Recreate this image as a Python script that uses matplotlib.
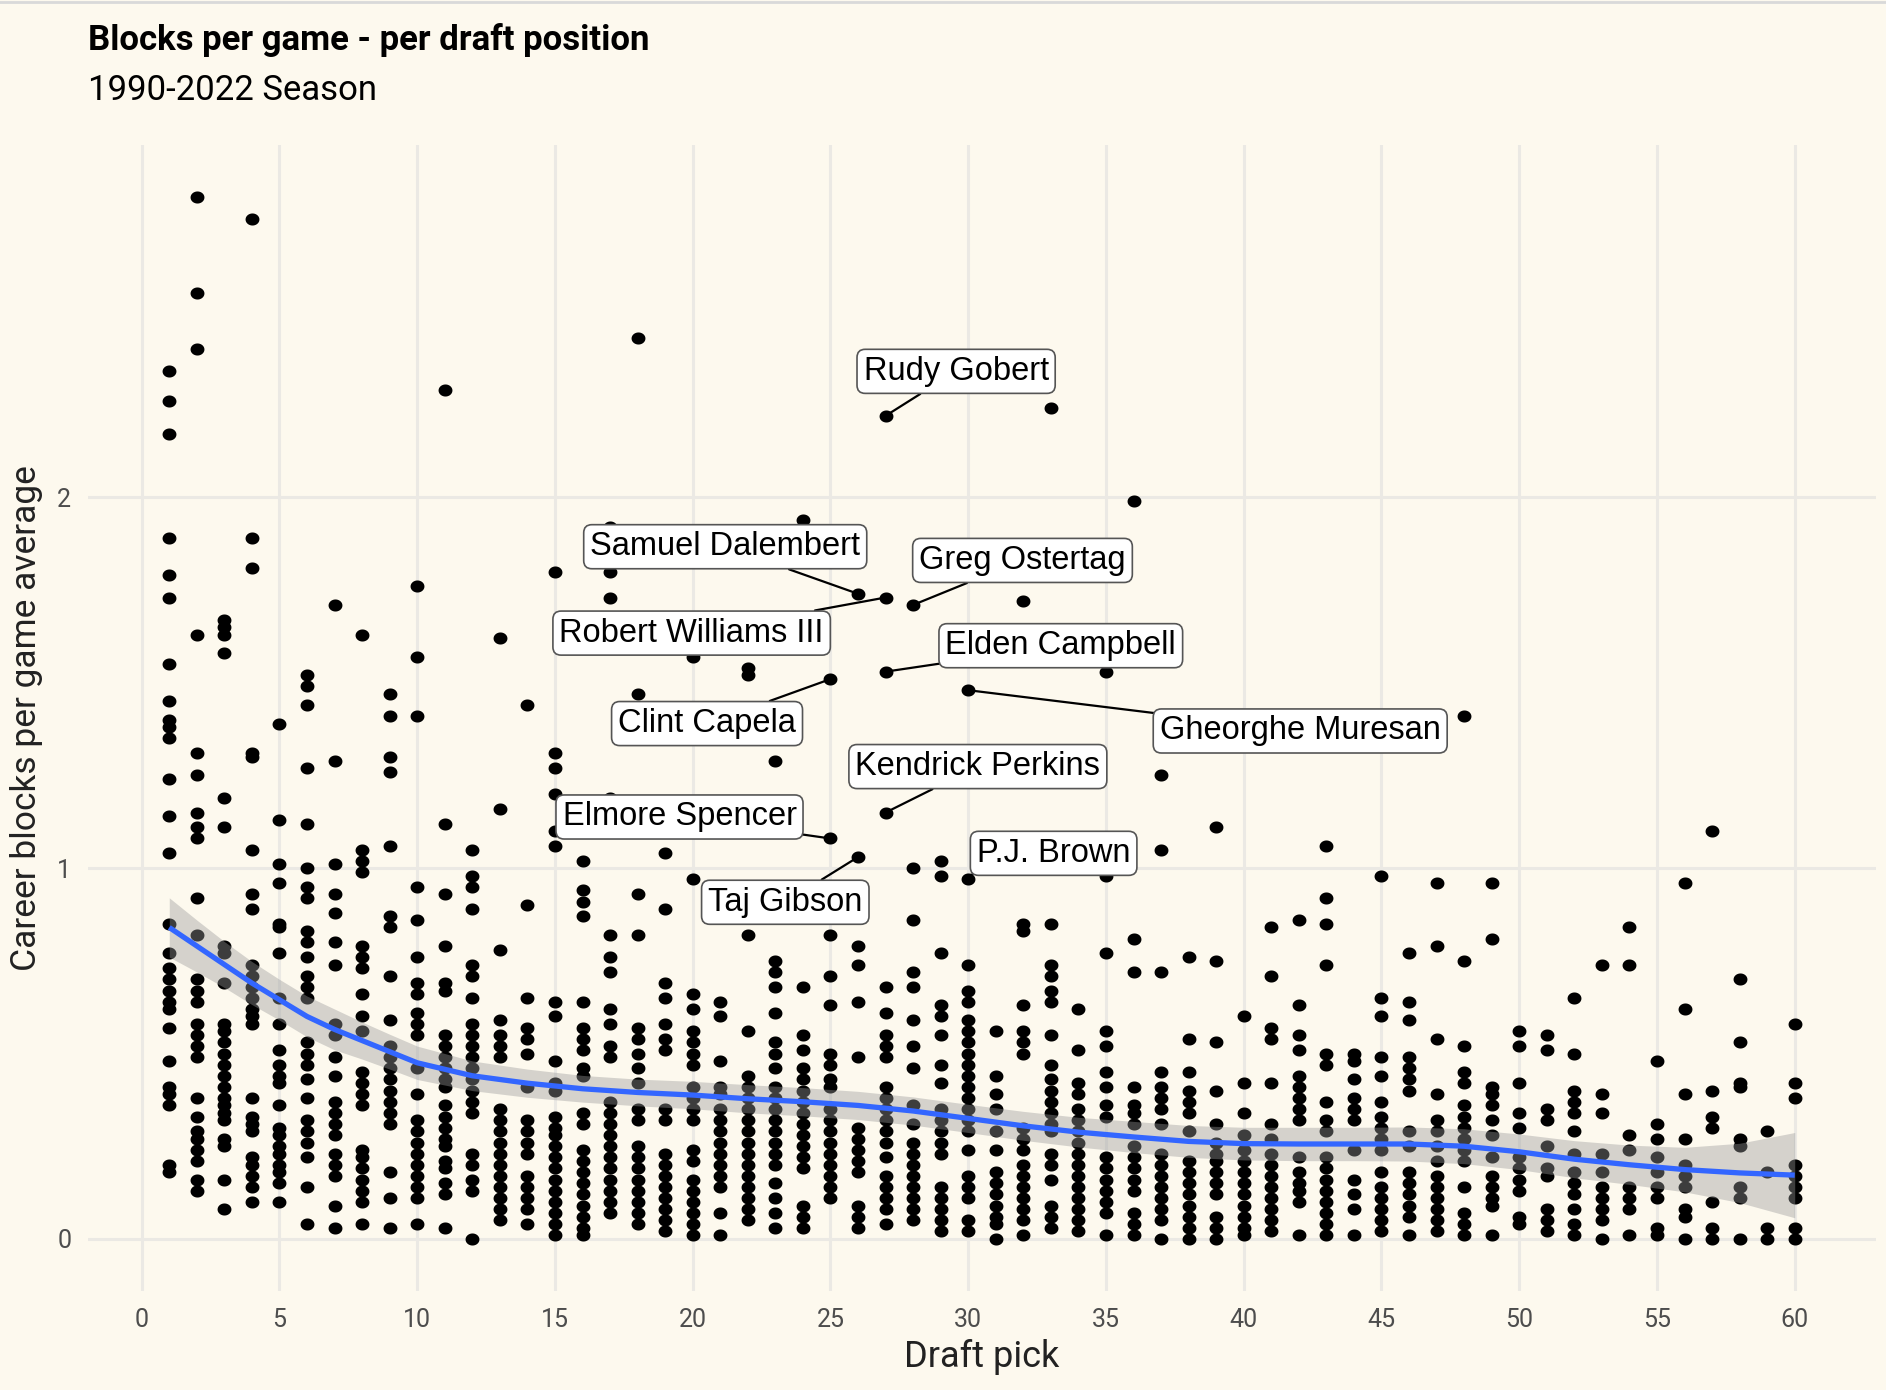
import matplotlib
matplotlib.use("Agg")
from matplotlib import pyplot as plt
from matplotlib.lines import Line2D
from matplotlib.path import Path
import numpy as np

# career blocks per game, one list per draft pick (1..60)
draft_picks = [1, 2, 3, 4, 5, 6, 7, 8, 9, 10, 11, 12, 13, 14, 15, 16, 17, 18, 19, 20,
               21, 22, 23, 24, 25, 26, 27, 28, 29, 30, 31, 32, 33, 34, 35, 36, 37, 38, 39, 40,
               41, 42, 43, 44, 45, 46, 47, 48, 49, 50, 51, 52, 53, 54, 55, 56, 57, 58, 59, 60]
blocks = [
    [2.34, 2.26, 2.17, 1.89, 1.79, 1.73, 1.55, 1.45, 1.40, 1.38, 1.35, 1.24, 1.14, 1.04, 0.85, 0.77, 0.73, 0.70, 0.67, 0.64, 0.62, 0.57, 0.48, 0.41, 0.39, 0.36, 0.20, 0.18],
    [2.81, 2.55, 2.40, 1.63, 1.31, 1.25, 1.15, 1.11, 1.08, 0.92, 0.82, 0.70, 0.67, 0.64, 0.58, 0.55, 0.52, 0.49, 0.38, 0.33, 0.29, 0.27, 0.24, 0.21, 0.16, 0.13],
    [1.67, 1.65, 1.63, 1.58, 1.19, 1.11, 0.79, 0.77, 0.69, 0.58, 0.56, 0.53, 0.50, 0.47, 0.44, 0.41, 0.38, 0.36, 0.34, 0.32, 0.27, 0.25, 0.16, 0.08],
    [2.75, 1.89, 1.81, 1.31, 1.30, 1.05, 0.93, 0.89, 0.74, 0.71, 0.68, 0.65, 0.62, 0.60, 0.58, 0.38, 0.33, 0.31, 0.29, 0.22, 0.20, 0.17, 0.14, 0.10],
    [1.39, 1.13, 1.01, 0.96, 0.85, 0.84, 0.77, 0.65, 0.58, 0.51, 0.47, 0.44, 0.42, 0.36, 0.30, 0.28, 0.25, 0.23, 0.20, 0.18, 0.15, 0.10],
    [1.52, 1.49, 1.44, 1.27, 1.12, 1.00, 0.95, 0.92, 0.83, 0.80, 0.76, 0.71, 0.68, 0.65, 0.53, 0.50, 0.47, 0.43, 0.38, 0.32, 0.29, 0.26, 0.22, 0.14, 0.04],
    [1.71, 1.29, 1.01, 0.93, 0.88, 0.80, 0.74, 0.58, 0.55, 0.49, 0.44, 0.37, 0.34, 0.31, 0.28, 0.23, 0.20, 0.17, 0.09, 0.03],
    [1.63, 1.05, 1.02, 0.99, 0.79, 0.76, 0.73, 0.66, 0.60, 0.56, 0.45, 0.42, 0.39, 0.36, 0.24, 0.22, 0.19, 0.16, 0.13, 0.10, 0.04],
    [1.47, 1.41, 1.30, 1.26, 1.06, 0.87, 0.84, 0.71, 0.59, 0.52, 0.49, 0.46, 0.43, 0.40, 0.37, 0.34, 0.31, 0.18, 0.11, 0.03],
    [1.76, 1.57, 1.41, 0.95, 0.86, 0.76, 0.69, 0.66, 0.61, 0.58, 0.55, 0.46, 0.39, 0.32, 0.29, 0.26, 0.23, 0.20, 0.17, 0.14, 0.11, 0.04],
    [2.29, 1.12, 0.93, 0.79, 0.69, 0.67, 0.55, 0.52, 0.49, 0.46, 0.43, 0.41, 0.36, 0.33, 0.30, 0.27, 0.25, 0.21, 0.19, 0.15, 0.12, 0.03],
    [1.05, 0.98, 0.95, 0.89, 0.74, 0.71, 0.65, 0.58, 0.55, 0.52, 0.49, 0.46, 0.43, 0.40, 0.37, 0.34, 0.23, 0.20, 0.16, 0.13, 0.00],
    [1.62, 1.16, 0.78, 0.59, 0.55, 0.52, 0.49, 0.35, 0.32, 0.29, 0.26, 0.23, 0.20, 0.17, 0.14, 0.11, 0.08, 0.05],
    [1.44, 0.90, 0.65, 0.57, 0.54, 0.50, 0.41, 0.32, 0.29, 0.26, 0.23, 0.17, 0.14, 0.11, 0.08, 0.04],
    [1.80, 1.31, 1.27, 1.20, 1.10, 1.06, 0.64, 0.60, 0.48, 0.42, 0.40, 0.33, 0.30, 0.28, 0.25, 0.22, 0.19, 0.16, 0.13, 0.10, 0.07, 0.04, 0.01],
    [1.02, 0.94, 0.91, 0.87, 0.64, 0.57, 0.54, 0.51, 0.46, 0.44, 0.34, 0.31, 0.24, 0.21, 0.18, 0.15, 0.12, 0.09, 0.06, 0.03, 0.01],
    [1.92, 1.80, 1.73, 1.19, 0.82, 0.76, 0.72, 0.62, 0.58, 0.52, 0.49, 0.37, 0.34, 0.31, 0.28, 0.25, 0.22, 0.19, 0.16, 0.13, 0.10, 0.07],
    [2.43, 1.47, 0.93, 0.82, 0.57, 0.54, 0.50, 0.46, 0.42, 0.35, 0.32, 0.25, 0.22, 0.19, 0.16, 0.13, 0.10, 0.07, 0.04],
    [1.04, 0.89, 0.69, 0.65, 0.58, 0.54, 0.51, 0.35, 0.32, 0.23, 0.20, 0.17, 0.14, 0.11, 0.08, 0.05, 0.02],
    [1.57, 0.97, 0.66, 0.62, 0.56, 0.53, 0.50, 0.47, 0.41, 0.38, 0.35, 0.32, 0.24, 0.21, 0.16, 0.13, 0.10, 0.07, 0.04, 0.01],
    [0.64, 0.60, 0.48, 0.41, 0.39, 0.35, 0.32, 0.29, 0.26, 0.23, 0.20, 0.17, 0.14, 0.07, 0.01],
    [1.54, 1.52, 0.82, 0.56, 0.44, 0.41, 0.38, 0.35, 0.32, 0.29, 0.26, 0.23, 0.20, 0.17, 0.14, 0.11, 0.08, 0.05],
    [1.29, 0.75, 0.72, 0.68, 0.61, 0.53, 0.50, 0.46, 0.41, 0.38, 0.35, 0.32, 0.29, 0.26, 0.23, 0.20, 0.15, 0.11, 0.07, 0.03],
    [1.94, 0.68, 0.55, 0.51, 0.46, 0.43, 0.40, 0.37, 0.34, 0.31, 0.28, 0.25, 0.22, 0.19, 0.09, 0.06, 0.03],
    [1.51, 1.08, 0.82, 0.71, 0.63, 0.50, 0.47, 0.43, 0.41, 0.35, 0.32, 0.29, 0.26, 0.23, 0.20, 0.17, 0.14, 0.11],
    [1.74, 1.03, 0.79, 0.74, 0.64, 0.49, 0.30, 0.27, 0.24, 0.21, 0.18, 0.09, 0.06, 0.03],
    [2.22, 1.73, 1.53, 1.15, 0.68, 0.61, 0.55, 0.52, 0.49, 0.41, 0.38, 0.35, 0.32, 0.29, 0.26, 0.22, 0.17, 0.14, 0.11, 0.08, 0.04],
    [1.71, 1.00, 0.86, 0.72, 0.68, 0.59, 0.52, 0.46, 0.36, 0.31, 0.26, 0.23, 0.20, 0.17, 0.14, 0.11, 0.08, 0.05],
    [1.02, 0.98, 0.77, 0.63, 0.60, 0.55, 0.47, 0.42, 0.35, 0.32, 0.29, 0.26, 0.23, 0.14, 0.11, 0.08, 0.05, 0.02],
    [1.48, 0.97, 0.74, 0.67, 0.64, 0.59, 0.56, 0.53, 0.50, 0.47, 0.44, 0.41, 0.38, 0.35, 0.32, 0.29, 0.24, 0.17, 0.14, 0.11, 0.05, 0.02],
    [0.56, 0.44, 0.39, 0.35, 0.29, 0.24, 0.18, 0.15, 0.12, 0.09, 0.06, 0.04, 0.00],
    [1.72, 0.85, 0.83, 0.63, 0.56, 0.53, 0.50, 0.30, 0.27, 0.24, 0.20, 0.17, 0.14, 0.11, 0.08, 0.05, 0.01],
    [2.24, 0.85, 0.74, 0.71, 0.67, 0.64, 0.55, 0.47, 0.43, 0.40, 0.37, 0.34, 0.31, 0.29, 0.23, 0.20, 0.16, 0.09, 0.06, 0.03],
    [0.62, 0.51, 0.42, 0.39, 0.35, 0.32, 0.29, 0.26, 0.23, 0.20, 0.17, 0.14, 0.11, 0.08, 0.05, 0.02],
    [1.53, 0.98, 0.77, 0.56, 0.52, 0.45, 0.41, 0.36, 0.33, 0.22, 0.19, 0.16, 0.13, 0.10, 0.07, 0.01],
    [1.99, 0.81, 0.72, 0.41, 0.36, 0.34, 0.31, 0.25, 0.22, 0.19, 0.16, 0.13, 0.07, 0.04, 0.01],
    [1.25, 1.05, 0.72, 0.45, 0.41, 0.38, 0.35, 0.31, 0.23, 0.20, 0.17, 0.14, 0.11, 0.08, 0.05, 0.00],
    [0.76, 0.54, 0.45, 0.40, 0.37, 0.34, 0.29, 0.21, 0.18, 0.15, 0.12, 0.09, 0.06, 0.03, 0.00],
    [1.11, 0.75, 0.53, 0.40, 0.31, 0.26, 0.23, 0.21, 0.18, 0.15, 0.12, 0.06, 0.03, 0.00],
    [0.60, 0.42, 0.34, 0.28, 0.24, 0.21, 0.18, 0.15, 0.12, 0.09, 0.06, 0.03, 0.01],
    [0.84, 0.71, 0.57, 0.54, 0.42, 0.31, 0.27, 0.23, 0.20, 0.17, 0.14, 0.11, 0.08, 0.05, 0.02],
    [0.86, 0.63, 0.55, 0.51, 0.44, 0.41, 0.38, 0.35, 0.32, 0.22, 0.18, 0.15, 0.13, 0.10, 0.01],
    [1.06, 0.92, 0.85, 0.74, 0.50, 0.47, 0.37, 0.32, 0.29, 0.22, 0.19, 0.16, 0.13, 0.10, 0.07, 0.04, 0.01],
    [0.50, 0.48, 0.43, 0.38, 0.35, 0.32, 0.24, 0.16, 0.12, 0.08, 0.01],
    [0.98, 0.65, 0.60, 0.49, 0.44, 0.37, 0.33, 0.30, 0.27, 0.24, 0.18, 0.14, 0.11, 0.08, 0.05, 0.02],
    [0.77, 0.64, 0.59, 0.49, 0.46, 0.43, 0.40, 0.29, 0.25, 0.18, 0.15, 0.12, 0.09, 0.06, 0.01],
    [0.96, 0.79, 0.54, 0.39, 0.32, 0.29, 0.25, 0.21, 0.17, 0.14, 0.11, 0.08, 0.05, 0.02],
    [1.41, 0.75, 0.52, 0.45, 0.42, 0.36, 0.33, 0.30, 0.27, 0.24, 0.21, 0.14, 0.07, 0.04, 0.01],
    [0.96, 0.81, 0.41, 0.39, 0.36, 0.32, 0.28, 0.22, 0.17, 0.14, 0.11, 0.09, 0.01],
    [0.56, 0.52, 0.42, 0.34, 0.30, 0.22, 0.19, 0.16, 0.13, 0.06, 0.04],
    [0.55, 0.51, 0.35, 0.32, 0.25, 0.19, 0.17, 0.08, 0.05, 0.02],
    [0.65, 0.50, 0.40, 0.37, 0.34, 0.29, 0.23, 0.18, 0.15, 0.12, 0.08, 0.04, 0.01],
    [0.74, 0.39, 0.34, 0.23, 0.18, 0.14, 0.11, 0.08, 0.05, 0.00],
    [0.84, 0.74, 0.28, 0.24, 0.14, 0.11, 0.08, 0.01],
    [0.48, 0.31, 0.27, 0.22, 0.18, 0.14, 0.11, 0.03, 0.01],
    [0.96, 0.62, 0.39, 0.27, 0.20, 0.17, 0.14, 0.08, 0.06, 0.00],
    [1.10, 0.40, 0.33, 0.30, 0.10, 0.03, 0.00],
    [0.70, 0.53, 0.42, 0.41, 0.27, 0.25, 0.14, 0.11, 0.00],
    [0.29, 0.18, 0.03, 0.00],
    [0.58, 0.42, 0.38, 0.20, 0.17, 0.14, 0.11, 0.03, 0.00],
]

# loess fit
smooth_picks = [1, 2, 3, 4, 5, 6, 7, 8, 9, 10, 12, 14, 16, 18, 20, 22, 24, 26, 28, 30,
                32, 34, 36, 38, 40, 42, 44, 46, 48, 50, 52, 54, 56, 58, 60]
smooth_fit = [0.84, 0.79, 0.74, 0.69, 0.645, 0.60, 0.565, 0.535, 0.505, 0.475, 0.44, 0.42,
              0.405, 0.395, 0.388, 0.378, 0.37, 0.36, 0.345, 0.325, 0.305, 0.288, 0.275,
              0.263, 0.257, 0.256, 0.256, 0.256, 0.25, 0.235, 0.215, 0.20, 0.187, 0.178, 0.172]
smooth_se = [0.08, 0.07, 0.062, 0.058, 0.055, 0.055, 0.055, 0.05, 0.047, 0.045, 0.04, 0.038,
             0.036, 0.036, 0.037, 0.038, 0.038, 0.038, 0.038, 0.038, 0.039, 0.04, 0.042,
             0.043, 0.044, 0.045, 0.045, 0.046, 0.047, 0.048, 0.05, 0.053, 0.06, 0.08, 0.115]

label_names = ["Rudy Gobert", "Samuel Dalembert", "Greg Ostertag", "Robert Williams III",
               "Elden Campbell", "Clint Capela", "Gheorghe Muresan", "Kendrick Perkins",
               "Elmore Spencer", "P.J. Brown", "Taj Gibson"]
label_picks = [27, 26, 28, 27, 27, 25, 30, 27, 25, 30, 26]
label_values = [2.22, 1.74, 1.71, 1.73, 1.53, 1.51, 1.48, 1.15, 1.08, 0.98, 1.03]

# where ggrepel put the boxes (data coords of box centre)
label_box_x = [29.56, 21.18, 31.97, 19.96, 33.36, 20.52, 42.05, 30.35, 19.52, 33.1, 23.36]
label_box_y = [2.34, 1.867, 1.83, 1.634, 1.60, 1.39, 1.37, 1.274, 1.138, 1.04, 0.908]

bg = "#fdf9ee"
grid = "#ebe9e4"
W, H = 1886, 1390

fig = plt.figure(figsize=(W / 100, H / 100), dpi=100, facecolor=bg)
ax = fig.add_axes([88 / W, 1 - 1291 / H, (1876 - 88) / W, (1291 - 145) / H])
ax.set_facecolor(bg)

# the reference render is a little stretched sideways, so dots are slightly oval
t = np.linspace(0, 2 * np.pi, 40)
oval = Path(np.column_stack([1.15 * np.cos(t), np.sin(t)]), closed=True)

xs = []
ys = []
for p, vals in zip(draft_picks, blocks):
    xs.extend([p] * len(vals))
    ys.extend(vals)
ax.scatter(xs, ys, s=100, marker=oval, color="black", linewidths=0, zorder=3)

fit = np.array(smooth_fit)
se = np.array(smooth_se)
ax.fill_between(smooth_picks, fit - se, fit + se, color="#999999", alpha=0.4,
                linewidth=0, zorder=4)
ax.plot(smooth_picks, fit, color="#3366FF", lw=3.8, zorder=5, solid_capstyle="butt")

for name, px, py, bx, by in zip(label_names, label_picks, label_values, label_box_x, label_box_y):
    ax.annotate(name, xy=(px, py), xytext=(bx, by), ha="center", va="center",
                fontsize=23.5, family="Liberation Sans", color="black", zorder=7,
                bbox=dict(boxstyle="round,pad=0.2,rounding_size=0.25", fc="white",
                          ec="#555555", lw=1.2),
                arrowprops=dict(arrowstyle="-", color="black", lw=1.6,
                                shrinkA=0, shrinkB=4))

# ggplot style default expansion
xmin, xmax = min(draft_picks), max(draft_picks)
ymin, ymax = 0, max(max(v) for v in blocks)
ax.set_xlim(xmin - 0.05 * (xmax - xmin), xmax + 0.05 * (xmax - xmin))
ax.set_ylim(ymin - 0.05 * (ymax - ymin), ymax + 0.05 * (ymax - ymin))

ax.set_xticks([0, 5, 10, 15, 20, 25, 30, 35, 40, 45, 50, 55, 60])
ax.set_yticks([0, 1, 2])
ax.grid(True, color=grid, lw=2.2, zorder=0)
ax.set_axisbelow(True)
for s in ax.spines.values():
    s.set_visible(False)
ax.tick_params(length=0, labelsize=18, labelcolor="#4d4d4d", pad=12)
for lab in ax.get_xticklabels() + ax.get_yticklabels():
    lab.set_family("Roboto")

fig.text(982 / W, 1 - 1357 / H, "Draft pick", fontsize=26, family="Roboto",
         color="#222222", ha="center", va="center")
fig.text(27 / W, 1 - 718 / H, "Career blocks per game average", fontsize=25.5,
         family="Roboto", color="#222222", ha="center", va="center", rotation=90)

fig.text(88 / W, 1 - 40 / H, "Blocks per game - per draft position", fontsize=25,
         fontweight="bold", family="Roboto", va="center", ha="left", color="black")
fig.text(88 / W, 1 - 90 / H, "1990-2022 Season", fontsize=25, family="Roboto",
         va="center", ha="left", color="black")

fig.add_artist(Line2D([0, 1], [1 - 1.5 / H, 1 - 1.5 / H], color="#d9d9d9", lw=2))

fig.savefig("out.png", dpi=100, facecolor=bg)
